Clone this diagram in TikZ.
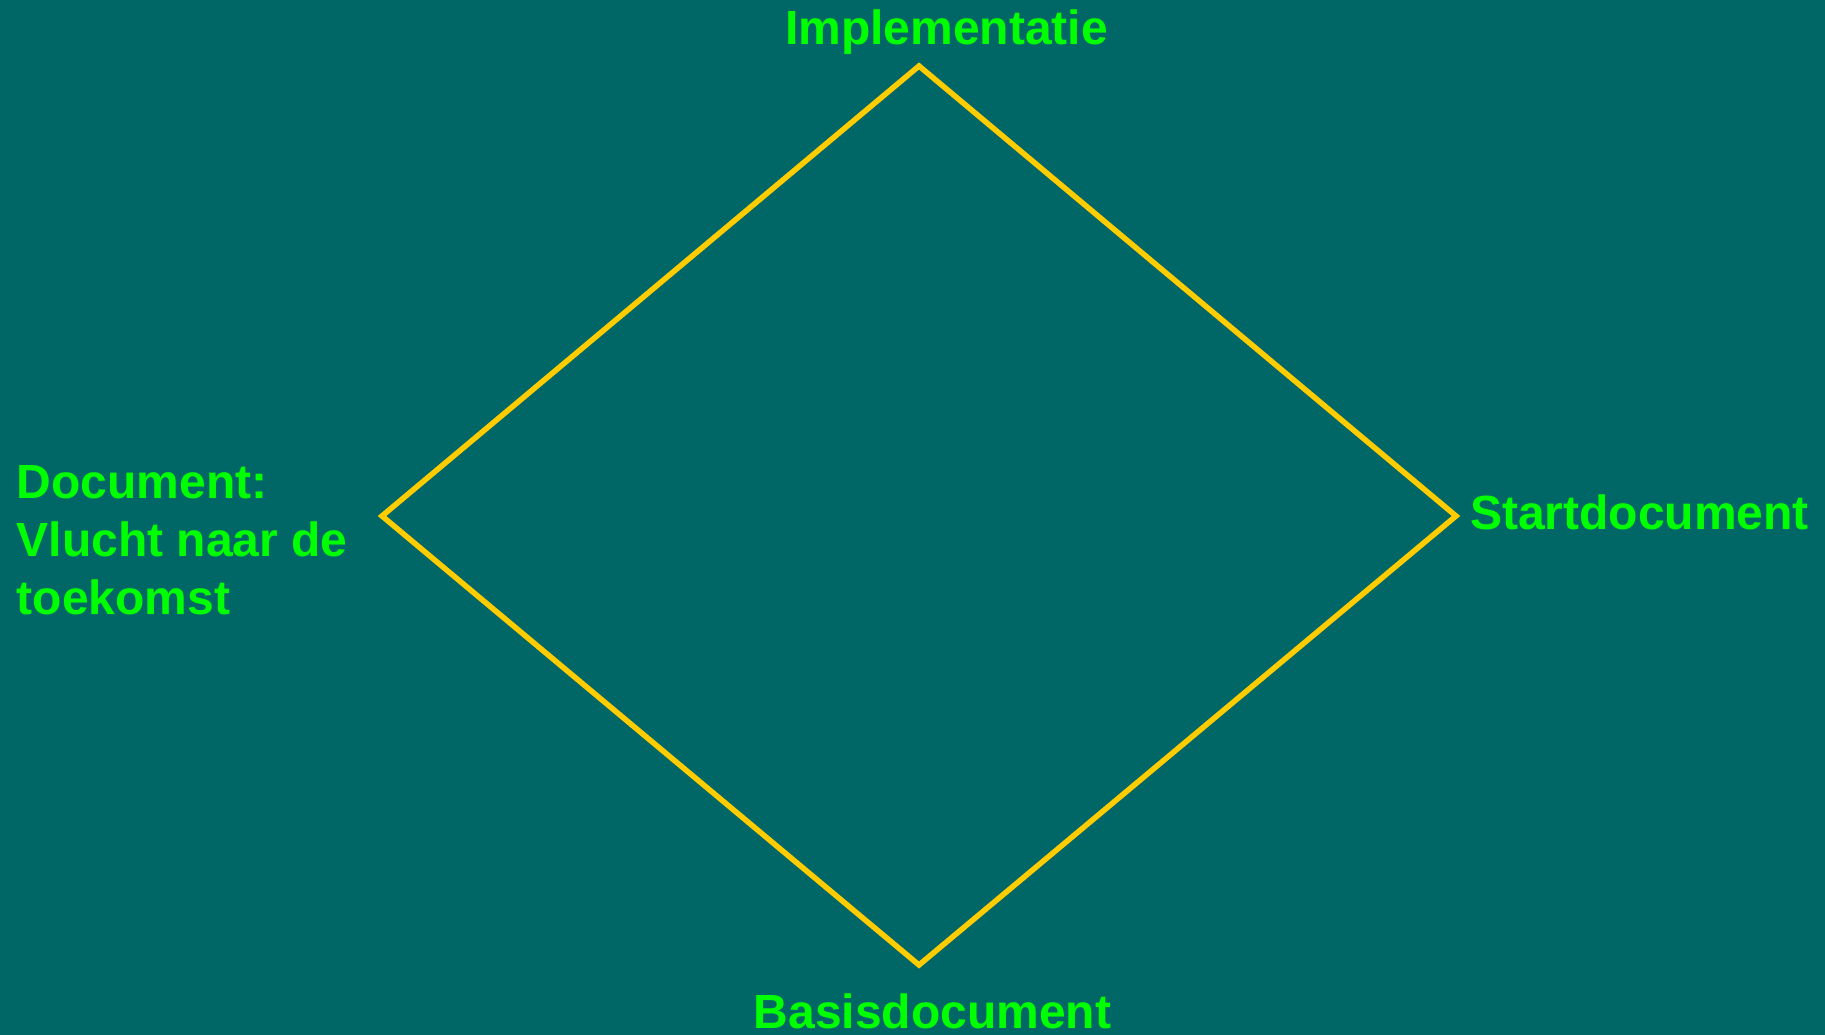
\documentclass[tikz,border=0pt]{standalone}
\usepackage{fontspec}
\setmainfont{Liberation Sans}
\definecolor{bgteal}{HTML}{006666}
\definecolor{lbl}{HTML}{00FF00}
\definecolor{edge}{HTML}{FFCC00}
\begin{document}
\begin{tikzpicture}[x=1pt,y=1pt,
  lab/.style={text=lbl,font=\fontsize{48}{58}\selectfont\bfseries,inner sep=0pt,anchor=base west,align=left},
  vtx/.style={inner sep=0pt,minimum size=0pt},
  side/.style={draw=edge,line width=5.5pt,line join=miter}]
\fill[bgteal] (0,0) rectangle (1825,1035);
\useasboundingbox (0,0) rectangle (1825,1035);
\node[vtx] (t) at (919,969) {};
\node[vtx] (l) at (382,519) {};
\node[vtx] (r) at (1456,519) {};
\node[vtx] (b) at (919,70) {};
\draw[side] (t.center) -- (r.center) -- (b.center) -- (l.center) -- cycle;
\node[lab] (impl) at (785,990) {Implementatie};
\node[lab] (start) at (1470,505) {Startdocument};
\node[lab] (basis) at (753.5,6) {Basisdocument};
\node[lab] (doc) at (16.5,420) {Document:\\Vlucht naar de\\toekomst};
\end{tikzpicture}
\end{document}
